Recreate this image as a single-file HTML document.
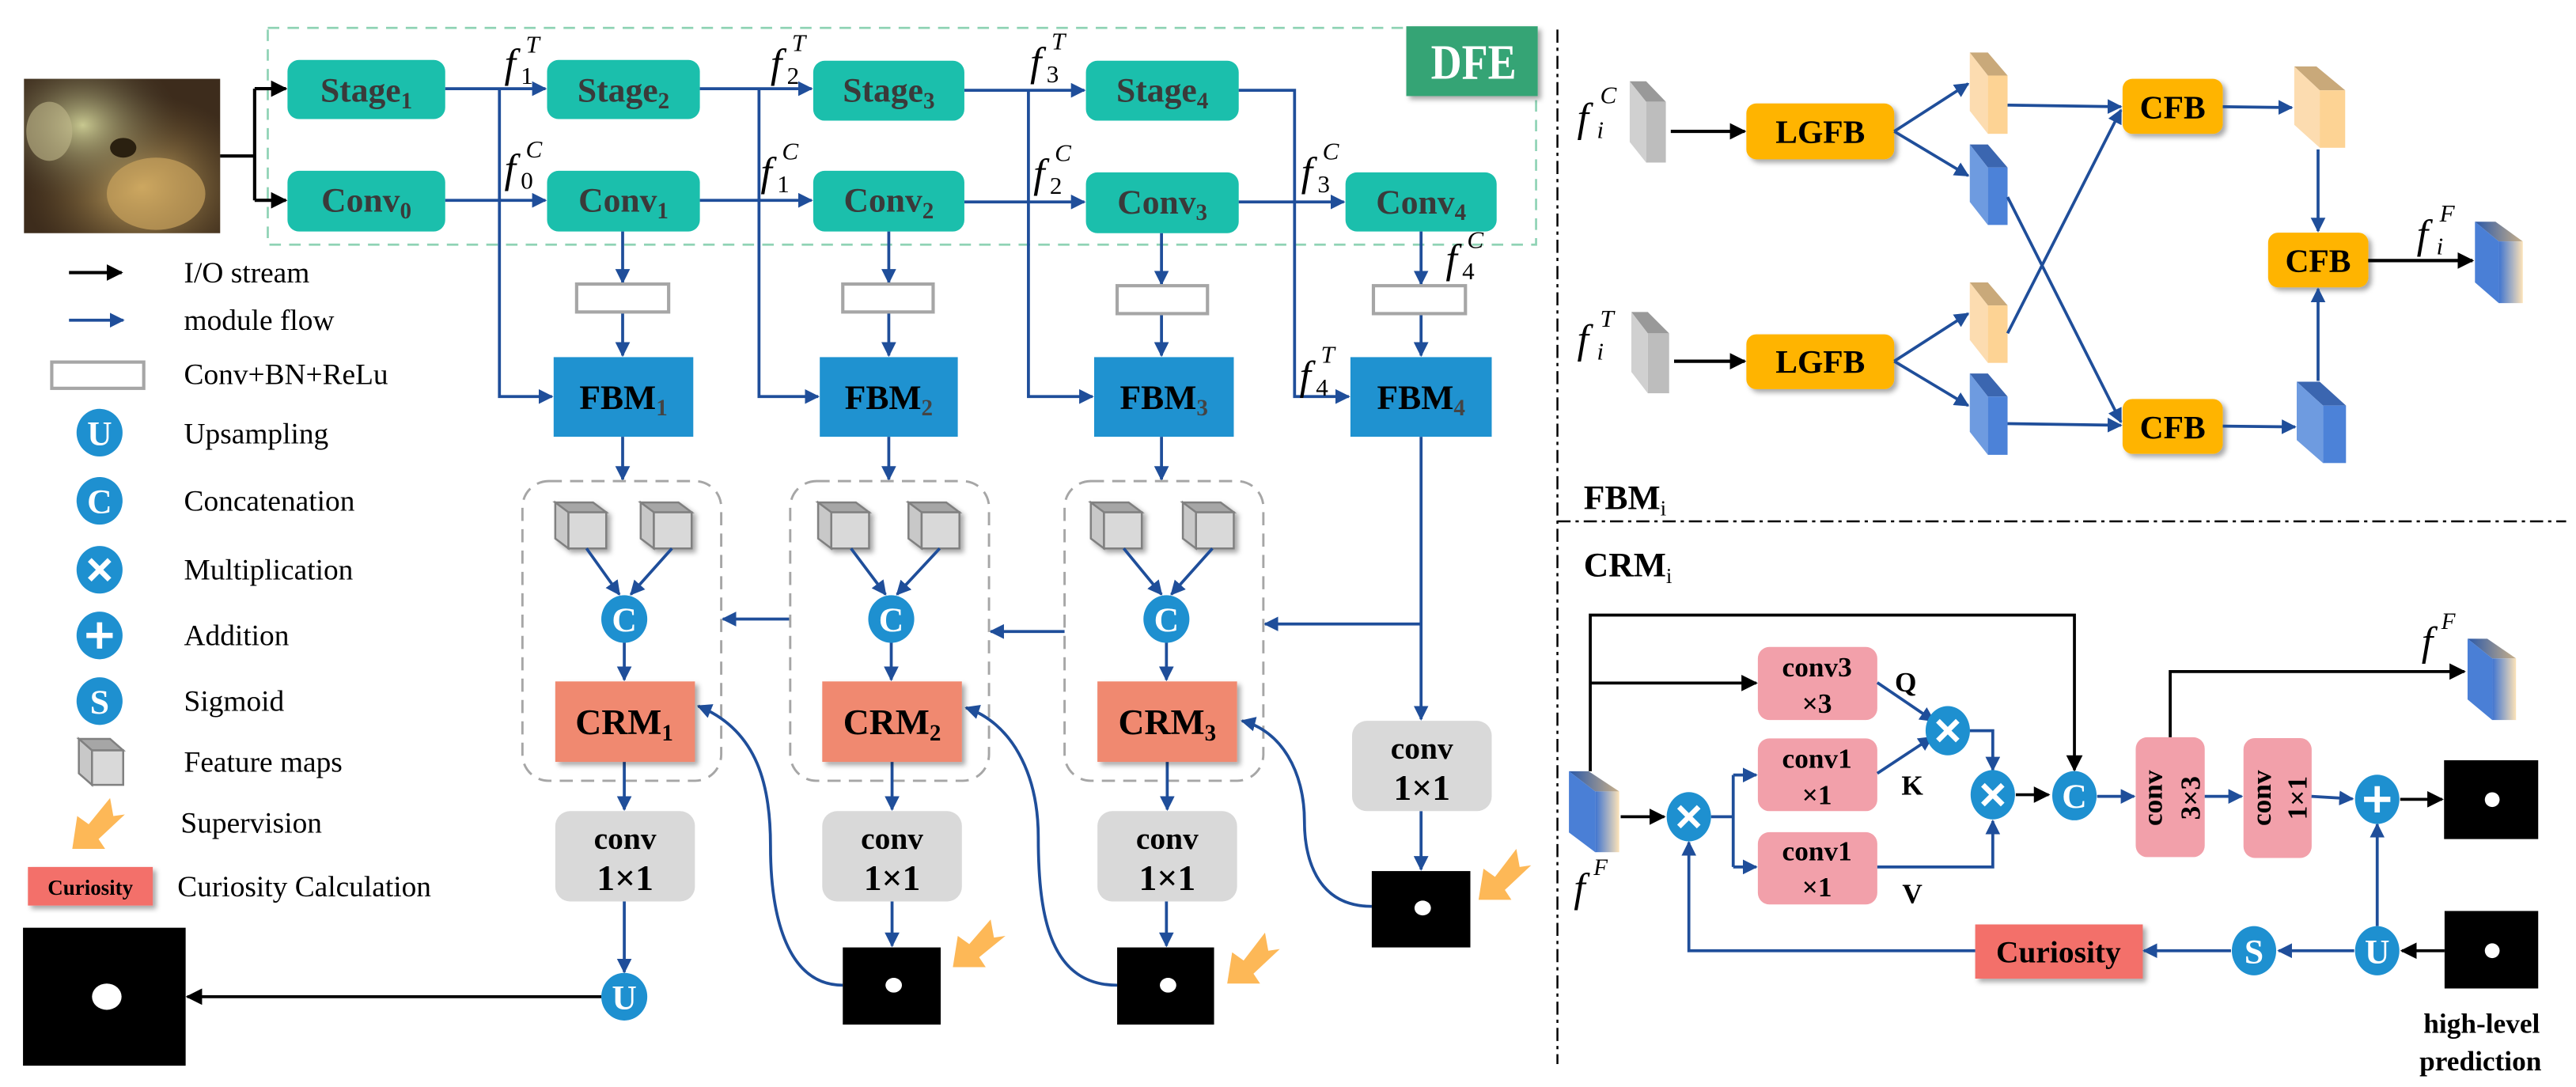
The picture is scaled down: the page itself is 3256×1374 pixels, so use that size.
<!DOCTYPE html>
<html><head><meta charset="utf-8"><style>html,body{margin:0;padding:0;background:#fff}svg{display:block}svg text{font-family:"Liberation Serif","DejaVu Serif",serif}</style></head><body>
<svg xmlns="http://www.w3.org/2000/svg" width="3256" height="1374" viewBox="0 0 1568 662" preserveAspectRatio="none" font-family="Liberation Serif, serif">
<defs>
<marker id="b" viewBox="0 0 10 10" refX="9" refY="5" markerWidth="9" markerHeight="9" markerUnits="userSpaceOnUse" orient="auto"><path d="M0,0 L10,5 L0,10 z" fill="#1f4e9a"/></marker>
<marker id="k" viewBox="0 0 10 10" refX="9" refY="5" markerWidth="10" markerHeight="10" markerUnits="userSpaceOnUse" orient="auto"><path d="M0,0 L10,5 L0,10 z" fill="#000"/></marker>
<linearGradient id="gf" x1="0" x2="1"><stop offset="0" stop-color="#3f74d0"/><stop offset="1" stop-color="#fde3b8"/></linearGradient>
<linearGradient id="gt" x1="0" x2="1"><stop offset="0" stop-color="#2a58a8"/><stop offset="1" stop-color="#c9b08a"/></linearGradient>
<filter id="sh" x="-10%" y="-10%" width="130%" height="130%"><feDropShadow dx="2" dy="2" stdDeviation="1.5" flood-color="#000" flood-opacity="0.35"/></filter>
<radialGradient id="ph1" cx="0.6" cy="0.7" r="0.6"><stop offset="0" stop-color="#d6b36a"/><stop offset="1" stop-color="#6b5530" stop-opacity="0"/></radialGradient>
<radialGradient id="ph2" cx="0.3" cy="0.3" r="0.5"><stop offset="0" stop-color="#c8c890"/><stop offset="1" stop-color="#4a4030" stop-opacity="0"/></radialGradient>
</defs>

<rect x="14.6" y="48" width="119.4" height="94" fill="#3d2c1c"/>
<rect x="14.6" y="48" width="119.4" height="94" fill="url(#ph1)"/>
<rect x="14.6" y="48" width="119.4" height="94" fill="url(#ph2)"/>
<ellipse cx="30" cy="80" rx="14" ry="18" fill="#bfb78a" opacity="0.6"/>
<ellipse cx="95" cy="118" rx="30" ry="22" fill="#c9a35c" opacity="0.7"/>
<ellipse cx="75" cy="90" rx="8" ry="6" fill="#2a2010"/>

<rect x="163" y="17" width="772" height="132" fill="none" stroke="#8fd3b5" stroke-width="1.3" stroke-dasharray="7 5"/>
<rect x="856" y="16" width="80" height="42.5" fill="#34a474" filter="url(#sh)"/>
<text x="871" y="48" font-size="30" font-weight="bold" fill="#fff" textLength="52" lengthAdjust="spacingAndGlyphs">DFE</text>

<g stroke="#000" stroke-width="2" fill="none">
<path d="M134,95 H155 M155,54 V122"/>
<path d="M155,54 H174" marker-end="url(#k)"/>
<path d="M155,122 H174" marker-end="url(#k)"/>
</g>

<g fill="#1bbfac">
<rect x="175" y="36.5" width="96" height="36" rx="7"/>
<rect x="333" y="36.5" width="93" height="36" rx="7"/>
<rect x="495" y="37" width="92" height="36.5" rx="7"/>
<rect x="661" y="37" width="93" height="36.5" rx="7"/>
<rect x="175" y="104" width="96" height="37" rx="7"/>
<rect x="333" y="104" width="93" height="37" rx="7"/>
<rect x="495" y="104" width="92" height="37" rx="7"/>
<rect x="661" y="105" width="93" height="37" rx="7"/>
<rect x="819" y="105" width="92" height="36" rx="7"/>
</g>
<g font-size="21" font-weight="bold" fill="#3a3a3a" text-anchor="middle">
<text x="223" y="62">Stage<tspan font-size="14" dy="4">1</tspan></text>
<text x="379.5" y="62">Stage<tspan font-size="14" dy="4">2</tspan></text>
<text x="541" y="62">Stage<tspan font-size="14" dy="4">3</tspan></text>
<text x="707.5" y="62">Stage<tspan font-size="14" dy="4">4</tspan></text>
<text x="223" y="129">Conv<tspan font-size="14" dy="4">0</tspan></text>
<text x="379.5" y="129">Conv<tspan font-size="14" dy="4">1</tspan></text>
<text x="541" y="129">Conv<tspan font-size="14" dy="4">2</tspan></text>
<text x="707.5" y="130">Conv<tspan font-size="14" dy="4">3</tspan></text>
<text x="865" y="130">Conv<tspan font-size="14" dy="4">4</tspan></text>
</g>

<g stroke="#1f4e9a" stroke-width="1.8" fill="none">
<path d="M271,54 H332" marker-end="url(#b)"/>
<path d="M426,54 H494" marker-end="url(#b)"/>
<path d="M587,55 H660" marker-end="url(#b)"/>
<path d="M271,122 H332" marker-end="url(#b)"/>
<path d="M426,122 H494" marker-end="url(#b)"/>
<path d="M587,123 H660" marker-end="url(#b)"/>
<path d="M754,123 H818" marker-end="url(#b)"/>
<path d="M304,54 V241.5 H336" marker-end="url(#b)"/>
<path d="M462,54 V241.5 H498" marker-end="url(#b)"/>
<path d="M626,55 V241.5 H665" marker-end="url(#b)"/>
<path d="M754,55 H788 V241.5 H821" marker-end="url(#b)"/>
<path d="M379,141 V172" marker-end="url(#b)"/>
<path d="M541,141 V172" marker-end="url(#b)"/>
<path d="M707,142 V173" marker-end="url(#b)"/>
<path d="M865,141 V173" marker-end="url(#b)"/>
<path d="M379,190 V216.5" marker-end="url(#b)"/>
<path d="M541,190 V216.5" marker-end="url(#b)"/>
<path d="M707,191 V216.5" marker-end="url(#b)"/>
<path d="M865,191 V216.5" marker-end="url(#b)"/>
<path d="M379,266 V292" marker-end="url(#b)"/>
<path d="M541,266 V292" marker-end="url(#b)"/>
<path d="M707,266 V292" marker-end="url(#b)"/>
<path d="M865,266 V438" marker-end="url(#b)"/>
<path d="M865,380 H770" marker-end="url(#b)"/>
<path d="M648,384.6 H603" marker-end="url(#b)"/>
<path d="M481,377 H440" marker-end="url(#b)"/>
</g>

<g fill="#fff" stroke="#a6a6a6" stroke-width="2">
<rect x="351" y="173" width="56" height="17"/>
<rect x="513" y="173" width="55" height="17"/>
<rect x="680" y="174" width="55" height="17"/>
<rect x="836" y="174" width="56" height="17"/>
</g>

<g font-size="25" font-style="italic" fill="#000">
<text x="307" y="47">f</text><text x="320" y="32" font-size="15">T</text><text x="317" y="51" font-size="15" font-style="normal">1</text>
<text x="307" y="111">f</text><text x="320" y="96" font-size="15">C</text><text x="317" y="115" font-size="15" font-style="normal">0</text>
<text x="469" y="47">f</text><text x="482" y="31" font-size="15">T</text><text x="479" y="51" font-size="15" font-style="normal">2</text>
<text x="463" y="113">f</text><text x="476" y="97" font-size="15">C</text><text x="473" y="117" font-size="15" font-style="normal">1</text>
<text x="627" y="46">f</text><text x="640" y="30" font-size="15">T</text><text x="637" y="50" font-size="15" font-style="normal">3</text>
<text x="629" y="114">f</text><text x="642" y="98" font-size="15">C</text><text x="639" y="118" font-size="15" font-style="normal">2</text>
<text x="792" y="113">f</text><text x="805" y="97" font-size="15">C</text><text x="802" y="117" font-size="15" font-style="normal">3</text>
<text x="880" y="166">f</text><text x="893" y="151" font-size="15">C</text><text x="890" y="170" font-size="15" font-style="normal">4</text>
<text x="791" y="237">f</text><text x="804" y="221" font-size="15">T</text><text x="801" y="241" font-size="15" font-style="normal">4</text>
</g>

<g fill="#1f92d0">
<rect x="337" y="217.5" width="85" height="48.5"/>
<rect x="499" y="217.5" width="84" height="48.5"/>
<rect x="666" y="217.5" width="85" height="48.5"/>
<rect x="822" y="217.5" width="86" height="48.5"/>
</g>
<g font-size="21" font-weight="bold" fill="#000" text-anchor="middle">
<text x="379.5" y="249">FBM<tspan font-size="14" dy="4" fill="#444">1</tspan></text>
<text x="541" y="249">FBM<tspan font-size="14" dy="4" fill="#444">2</tspan></text>
<text x="708.5" y="249">FBM<tspan font-size="14" dy="4" fill="#444">3</tspan></text>
<text x="865" y="249">FBM<tspan font-size="14" dy="4" fill="#444">4</tspan></text>
</g>

<g fill="none" stroke="#a6a6a6" stroke-width="1.4" stroke-dasharray="8 5">
<rect x="318" y="293" width="121" height="182.5" rx="16"/>
<rect x="481" y="293" width="121" height="182.5" rx="16"/>
<rect x="648" y="293" width="121" height="182.5" rx="16"/>
</g>

<g stroke="#808080" stroke-width="1.2" filter="url(#sh)">
<g transform="translate(338,306)"><polygon points="0,0 23,0 31,6 8,6" fill="#a6a6a6"/><polygon points="0,0 8,6 8,28 0,22" fill="#c8c8c8"/><rect x="8" y="6" width="23" height="22" fill="#d9d9d9"/></g>
<g transform="translate(390,306)"><polygon points="0,0 23,0 31,6 8,6" fill="#a6a6a6"/><polygon points="0,0 8,6 8,28 0,22" fill="#c8c8c8"/><rect x="8" y="6" width="23" height="22" fill="#d9d9d9"/></g>
<g transform="translate(498,306)"><polygon points="0,0 23,0 31,6 8,6" fill="#a6a6a6"/><polygon points="0,0 8,6 8,28 0,22" fill="#c8c8c8"/><rect x="8" y="6" width="23" height="22" fill="#d9d9d9"/></g>
<g transform="translate(553,306)"><polygon points="0,0 23,0 31,6 8,6" fill="#a6a6a6"/><polygon points="0,0 8,6 8,28 0,22" fill="#c8c8c8"/><rect x="8" y="6" width="23" height="22" fill="#d9d9d9"/></g>
<g transform="translate(664,306)"><polygon points="0,0 23,0 31,6 8,6" fill="#a6a6a6"/><polygon points="0,0 8,6 8,28 0,22" fill="#c8c8c8"/><rect x="8" y="6" width="23" height="22" fill="#d9d9d9"/></g>
<g transform="translate(720,306)"><polygon points="0,0 23,0 31,6 8,6" fill="#a6a6a6"/><polygon points="0,0 8,6 8,28 0,22" fill="#c8c8c8"/><rect x="8" y="6" width="23" height="22" fill="#d9d9d9"/></g>
</g>

<g stroke="#1f4e9a" stroke-width="1.8" fill="none">
<path d="M357,334 L377,362" marker-end="url(#b)"/><path d="M409,334 L384,362" marker-end="url(#b)"/>
<path d="M518,334 L539,362" marker-end="url(#b)"/><path d="M572,334 L546,362" marker-end="url(#b)"/>
<path d="M684,334 L707,362" marker-end="url(#b)"/><path d="M738,334 L713,362" marker-end="url(#b)"/>
<path d="M380,391 V414" marker-end="url(#b)"/>
<path d="M542.5,391 V414" marker-end="url(#b)"/>
<path d="M710,391 V414" marker-end="url(#b)"/>
<path d="M380,464 V493" marker-end="url(#b)"/>
<path d="M543,464 V493" marker-end="url(#b)"/>
<path d="M710.5,464 V493" marker-end="url(#b)"/>
<path d="M380,549 V592" marker-end="url(#b)"/>
<path d="M543,549 V576" marker-end="url(#b)"/>
<path d="M710,549 V576" marker-end="url(#b)"/>
<path d="M865,494 V529.5" marker-end="url(#b)"/>
<path d="M513,600 C480,600 469,560 469,515 C469,480 462,445 425,430" marker-end="url(#b)"/>
<path d="M680,600 C640,600 632,560 632,510 C632,470 615,440 588,431" marker-end="url(#b)"/>
<path d="M835,552 C800,552 794,520 794,500 C794,470 780,445 756,439" marker-end="url(#b)"/>
</g>

<g fill="#f0896f" filter="url(#sh)">
<rect x="338" y="415" width="85" height="49"/>
<rect x="500.5" y="415" width="85" height="49"/>
<rect x="668" y="415" width="85" height="49"/>
</g>
<g font-size="22" font-weight="bold" fill="#000" text-anchor="middle">
<text x="380" y="447">CRM<tspan font-size="14" dy="4">1</tspan></text>
<text x="543" y="447">CRM<tspan font-size="14" dy="4">2</tspan></text>
<text x="710.5" y="447">CRM<tspan font-size="14" dy="4">3</tspan></text>
</g>

<g fill="#d9d9d9">
<rect x="338" y="494" width="85" height="55" rx="9"/>
<rect x="500.5" y="494" width="85" height="55" rx="9"/>
<rect x="668" y="494" width="85" height="55" rx="9"/>
<rect x="823" y="439" width="85" height="55" rx="9"/>
</g>
<g font-weight="bold" fill="#000" text-anchor="middle">
<text x="380.5" y="517" font-size="19">conv</text><text x="380.5" y="542" font-size="22">1×1</text>
<text x="543" y="517" font-size="19">conv</text><text x="543" y="542" font-size="22">1×1</text>
<text x="710.5" y="517" font-size="19">conv</text><text x="710.5" y="542" font-size="22">1×1</text>
<text x="865.5" y="462" font-size="19">conv</text><text x="865.5" y="487" font-size="22">1×1</text>
</g>

<g>
<rect x="14" y="565" width="99" height="84" fill="#000"/><ellipse cx="65" cy="607" rx="9" ry="8" fill="#fff"/>
<rect x="513" y="577" width="59.6" height="47" fill="#000"/><ellipse cx="544" cy="600" rx="5" ry="4.5" fill="#fff"/>
<rect x="680" y="577" width="59" height="47" fill="#000"/><ellipse cx="711" cy="600" rx="5" ry="4.5" fill="#fff"/>
<rect x="835" y="530.5" width="60" height="46.5" fill="#000"/><ellipse cx="866" cy="553" rx="5" ry="4.5" fill="#fff"/>
</g>
<path d="M366,607 H114" stroke="#000" stroke-width="1.8" marker-end="url(#k)"/>

<g fill="#fdb857">
<polygon points="580,589 583,570 590,575 603,560 605,571 612,570 596,583 600,589"/>
<polygon points="747,599 750,580 757,585 770,568 772,579 779,578 763,593 767,599"/>
<polygon points="900,548 903,529 910,534 923,517 925,528 932,527 916,542 920,548"/>
<polygon points="44,517 47,497 54,502 67,486 69,497 76,496 60,511 64,517"/>
</g>

<g fill="#1e90d0">
<ellipse cx="380" cy="377" rx="14" ry="14.5"/>
<ellipse cx="542.5" cy="377" rx="14" ry="14.5"/>
<ellipse cx="710" cy="377" rx="14" ry="14.5"/>
<ellipse cx="380" cy="607" rx="14" ry="14.5"/>
<ellipse cx="60.6" cy="263.5" rx="14" ry="14.5"/>
<ellipse cx="60.6" cy="305" rx="14" ry="14.5"/>
<ellipse cx="60.6" cy="347" rx="14" ry="14.5"/>
<ellipse cx="60.6" cy="387" rx="14" ry="14.5"/>
<ellipse cx="60.6" cy="427" rx="14" ry="14.5"/>
</g>
<g fill="#fff" font-weight="bold" font-size="21" text-anchor="middle">
<text x="380" y="384.5">C</text><text x="542.5" y="384.5">C</text><text x="710" y="384.5">C</text>
<text x="380" y="614.5">U</text><text x="60.6" y="271">U</text><text x="60.6" y="312.5">C</text><text x="60.6" y="434.5">S</text>
</g>
<g stroke="#fff" stroke-width="3.2">
<path d="M54.6,341 L66.6,353 M66.6,341 L54.6,353"/>
<path d="M52.6,387 H68.6 M60.6,379 V395"/>
</g>

<path d="M42,166 H74" stroke="#000" stroke-width="2" marker-end="url(#k)"/>
<path d="M42,195 H75" stroke="#1f4e9a" stroke-width="1.8" marker-end="url(#b)"/>
<rect x="31.5" y="220.5" width="56" height="16" fill="#fff" stroke="#a6a6a6" stroke-width="2"/>
<g transform="translate(48,450)" stroke="#808080" stroke-width="1.2"><polygon points="0,0 19,0 27,7 8,7" fill="#a6a6a6"/><polygon points="0,0 8,7 8,28 0,21" fill="#c8c8c8"/><rect x="8" y="7" width="19" height="21" fill="#d9d9d9"/></g>
<rect x="17" y="528" width="76" height="23.5" fill="#f36f6a" filter="url(#sh)"/>
<text x="55" y="545" font-size="13" font-weight="bold" text-anchor="middle" fill="#000">Curiosity</text>
<g font-size="18" fill="#000">
<text x="112" y="172">I/O stream</text>
<text x="112" y="201">module flow</text>
<text x="112" y="234">Conv+BN+ReLu</text>
<text x="112" y="270">Upsampling</text>
<text x="112" y="311">Concatenation</text>
<text x="112" y="353">Multiplication</text>
<text x="112" y="393">Addition</text>
<text x="112" y="433">Sigmoid</text>
<text x="112" y="470">Feature maps</text>
<text x="110" y="507">Supervision</text>
<text x="108" y="546">Curiosity Calculation</text>
</g>

<g stroke="#000" stroke-width="1.2" stroke-dasharray="8 3 2 3" fill="none">
<path d="M948,18 V648"/>
<path d="M948,317.5 H1562"/>
</g>

<g>
<polygon points="992,49.5 1002,49.5 1014,62 1002,62" fill="#999"/>
<polygon points="992,49.5 1002,62 1002,99 992,86.5" fill="#d0d0d0"/>
<rect x="1002" y="62" width="12" height="37" fill="#bdbdbd"/>
<polygon points="993,190 1003,190 1016,203 1003,203" fill="#999"/>
<polygon points="993,190 1003,203 1003,239.5 993,226.5" fill="#d0d0d0"/>
<rect x="1003" y="203" width="13" height="36.5" fill="#bdbdbd"/>
<polygon points="1199,32 1210,32 1222,46 1210,46" fill="#c9a97a"/>
<polygon points="1199,32 1210,46 1210,81.5 1199,67.5" fill="#fcdcb0"/>
<rect x="1210" y="46" width="12" height="35.5" fill="#fdd394"/>
<polygon points="1199,172 1210,172 1222,186 1210,186" fill="#c9a97a"/>
<polygon points="1199,172 1210,186 1210,221 1199,207" fill="#fcdcb0"/>
<rect x="1210" y="186" width="12" height="35" fill="#fdd394"/>
<polygon points="1396.5,40.5 1410,40.5 1427.5,55 1412,55" fill="#c9a97a"/>
<polygon points="1396.5,40.5 1412,55 1412,90 1396.5,76" fill="#fcdcb0"/>
<rect x="1412" y="55" width="15.5" height="35" fill="#fdd394"/>
<polygon points="1199,88 1210,88 1222,102 1210,102" fill="#3b66b0"/>
<polygon points="1199,88 1210,102 1210,137 1199,123" fill="#6e9be0"/>
<rect x="1210" y="102" width="12" height="35" fill="#4c82d8"/>
<polygon points="1199,227.5 1210,227.5 1222,241.5 1210,241.5" fill="#3b66b0"/>
<polygon points="1199,227.5 1210,241.5 1210,277 1199,263" fill="#6e9be0"/>
<rect x="1210" y="241.5" width="12" height="35.5" fill="#4c82d8"/>
<polygon points="1398,232.5 1412,232.5 1428,247 1414,247" fill="#3b66b0"/>
<polygon points="1398,232.5 1414,247 1414,282 1398,268" fill="#6e9be0"/>
<rect x="1414" y="247" width="14" height="35" fill="#4c82d8"/>
<polygon points="1506.5,135 1519,135 1535.6,147 1521,147" fill="url(#gt)"/>
<polygon points="1506.5,135 1521,147 1521,184.6 1506.5,172" fill="#4a7fd6"/>
<rect x="1521" y="147" width="14.6" height="37.6" fill="url(#gf)"/>
</g>
<g fill="#ffb400" filter="url(#sh)">
<rect x="1063" y="63" width="90" height="34" rx="6"/>
<rect x="1063" y="203.6" width="90" height="33.4" rx="6"/>
<rect x="1292" y="48" width="61" height="33.5" rx="6"/>
<rect x="1292" y="243" width="61" height="33.4" rx="6"/>
<rect x="1380.6" y="141.7" width="61" height="33.3" rx="6"/>
</g>
<g font-size="20" font-weight="bold" fill="#000" text-anchor="middle">
<text x="1108" y="87">LGFB</text>
<text x="1108" y="227">LGFB</text>
<text x="1322.5" y="72">CFB</text>
<text x="1322.5" y="267">CFB</text>
<text x="1411" y="165.5">CFB</text>
</g>
<g stroke="#000" stroke-width="2" fill="none">
<path d="M1017,80 H1062" marker-end="url(#k)"/>
<path d="M1019,220 H1062" marker-end="url(#k)"/>
<path d="M1441.5,158.7 H1505" marker-end="url(#k)"/>
</g>
<g stroke="#1f4e9a" stroke-width="1.8" fill="none">
<path d="M1153,80 L1198,51" marker-end="url(#b)"/>
<path d="M1153,80 L1198,107" marker-end="url(#b)"/>
<path d="M1153,220 L1198,191" marker-end="url(#b)"/>
<path d="M1153,220 L1198,247" marker-end="url(#b)"/>
<path d="M1222,64 L1291,65" marker-end="url(#b)"/>
<path d="M1222,120 L1291,257" marker-end="url(#b)"/>
<path d="M1222,203 L1291,67" marker-end="url(#b)"/>
<path d="M1222,258 L1291,259" marker-end="url(#b)"/>
<path d="M1353,65 L1395,65.5" marker-end="url(#b)"/>
<path d="M1353,259.5 L1397,260" marker-end="url(#b)"/>
<path d="M1411,91 V140.7" marker-end="url(#b)"/>
<path d="M1411,232 V176" marker-end="url(#b)"/>
</g>
<g font-size="25" font-style="italic" fill="#000">
<text x="960" y="80">f</text><text x="974" y="63" font-size="15">C</text><text x="972" y="84" font-size="15">i</text>
<text x="960" y="215">f</text><text x="974" y="199" font-size="15">T</text><text x="972" y="219" font-size="15">i</text>
<text x="1471" y="151">f</text><text x="1485" y="135" font-size="15">F</text><text x="1483" y="155" font-size="15">i</text>
</g>
<text x="964" y="310" font-size="21" font-weight="bold">FBM<tspan font-size="13" dy="4" font-weight="normal">i</tspan></text>

<text x="964" y="351" font-size="21" font-weight="bold">CRM<tspan font-size="13" dy="4" font-weight="normal">i</tspan></text>
<polygon points="955,469.7 967,469.7 985.6,482 971,482" fill="url(#gt)"/>
<polygon points="955,469.7 971,482 971,519 955,507" fill="#4a7fd6"/>
<rect x="971" y="482" width="14.6" height="37" fill="url(#gf)"/>
<polygon points="1502,389 1514,389 1531.5,401 1517,401" fill="url(#gt)"/>
<polygon points="1502,389 1517,401 1517,438.5 1502,426" fill="#4a7fd6"/>
<rect x="1517" y="401" width="14.5" height="37.5" fill="url(#gf)"/>
<g font-size="25" font-style="italic" fill="#000">
<text x="958" y="549">f</text><text x="970" y="533" font-size="14">F</text>
<text x="1474" y="399">f</text><text x="1486" y="383" font-size="14">F</text>
</g>
<g fill="#f2a0aa">
<rect x="1070" y="394" width="72.7" height="44.5" rx="7"/>
<rect x="1070" y="449.7" width="72.7" height="44.3" rx="7"/>
<rect x="1070" y="506.8" width="72.7" height="44" rx="7"/>
<rect x="1300" y="449" width="42" height="73" rx="7"/>
<rect x="1365.6" y="449.5" width="41.5" height="73" rx="7"/>
</g>
<g font-size="17" font-weight="bold" fill="#000" text-anchor="middle">
<text x="1106" y="412">conv3</text><text x="1106" y="434">×3</text>
<text x="1106" y="467.5">conv1</text><text x="1106" y="489.7">×1</text>
<text x="1106" y="524">conv1</text><text x="1106" y="546">×1</text>
<text transform="translate(1316,486) rotate(-90)">conv</text>
<text transform="translate(1339,486) rotate(-90)">3×3</text>
<text transform="translate(1382,486) rotate(-90)">conv</text>
<text transform="translate(1404,486) rotate(-90)">1×1</text>
<text x="1160" y="421">Q</text><text x="1164" y="484">K</text><text x="1164" y="550">V</text>
</g>
<rect x="1202.3" y="563" width="102" height="33" fill="#f36f6a" filter="url(#sh)"/>
<text x="1253" y="586" font-size="19" font-weight="bold" text-anchor="middle" fill="#000">Curiosity</text>
<rect x="1487.7" y="463" width="57.3" height="48" fill="#000"/><ellipse cx="1517" cy="487" rx="4.5" ry="4.5" fill="#fff"/>
<rect x="1488" y="554.8" width="57" height="47.2" fill="#000"/><ellipse cx="1517" cy="579" rx="4.5" ry="4.5" fill="#fff"/>
<g font-size="17" font-weight="bold" fill="#000" text-anchor="end">
<text x="1546" y="629">high-level</text>
<text x="1547" y="652">prediction</text>
</g>
<g stroke="#000" stroke-width="1.8" fill="none">
<path d="M968,469.7 V374.6 H1262.7 V469" marker-end="url(#k)"/>
<path d="M968,416 H1069" marker-end="url(#k)"/>
<path d="M986.5,497.4 H1013" marker-end="url(#k)"/>
<path d="M1227,484 H1247" marker-end="url(#k)"/>
<path d="M1321,449 V409 H1500" marker-end="url(#k)"/>
<path d="M1461,486.8 H1486.5" marker-end="url(#k)"/>
<path d="M1488,579 H1462" marker-end="url(#k)"/>
</g>
<g stroke="#1f4e9a" stroke-width="1.8" fill="none">
<path d="M1041.5,497.4 H1055 M1055,472 V528"/>
<path d="M1055,472 H1069" marker-end="url(#b)"/>
<path d="M1055,528 H1069" marker-end="url(#b)"/>
<path d="M1142.7,415.7 L1177,439" marker-end="url(#b)"/>
<path d="M1142.7,471 L1176,449" marker-end="url(#b)"/>
<path d="M1199,445 H1213 V469" marker-end="url(#b)"/>
<path d="M1142.7,528 H1213 V500" marker-end="url(#b)"/>
<path d="M1276.5,485 H1299" marker-end="url(#b)"/>
<path d="M1342,485 H1364.5" marker-end="url(#b)"/>
<path d="M1407,485 L1432,486.5" marker-end="url(#b)"/>
<path d="M1447,564 V502" marker-end="url(#b)"/>
<path d="M1433,579 H1387" marker-end="url(#b)"/>
<path d="M1358,579 H1305" marker-end="url(#b)"/>
<path d="M1202.3,579 H1028 V513" marker-end="url(#b)"/>
</g>
<g fill="#1e90d0">
<ellipse cx="1028" cy="497.4" rx="13.5" ry="15"/>
<ellipse cx="1185.6" cy="445" rx="13.5" ry="15"/>
<ellipse cx="1213" cy="484" rx="13.5" ry="15"/>
<ellipse cx="1262.7" cy="484.6" rx="13.5" ry="15"/>
<ellipse cx="1447" cy="486.8" rx="13.5" ry="15"/>
<ellipse cx="1447" cy="579" rx="13.5" ry="15"/>
<ellipse cx="1372" cy="579" rx="13.5" ry="15"/>
</g>
<g stroke="#fff" stroke-width="3.2">
<path d="M1022,491.4 L1034,503.4 M1034,491.4 L1022,503.4"/>
<path d="M1179.6,439 L1191.6,451 M1191.6,439 L1179.6,451"/>
<path d="M1207,478 L1219,490 M1219,478 L1207,490"/>
<path d="M1439,486.8 H1455 M1447,478.8 V494.8"/>
</g>
<g fill="#fff" font-weight="bold" font-size="21" text-anchor="middle">
<text x="1262.7" y="492">C</text><text x="1447" y="586.5">U</text><text x="1372" y="586.5">S</text>
</g>
</svg>
</body></html>
